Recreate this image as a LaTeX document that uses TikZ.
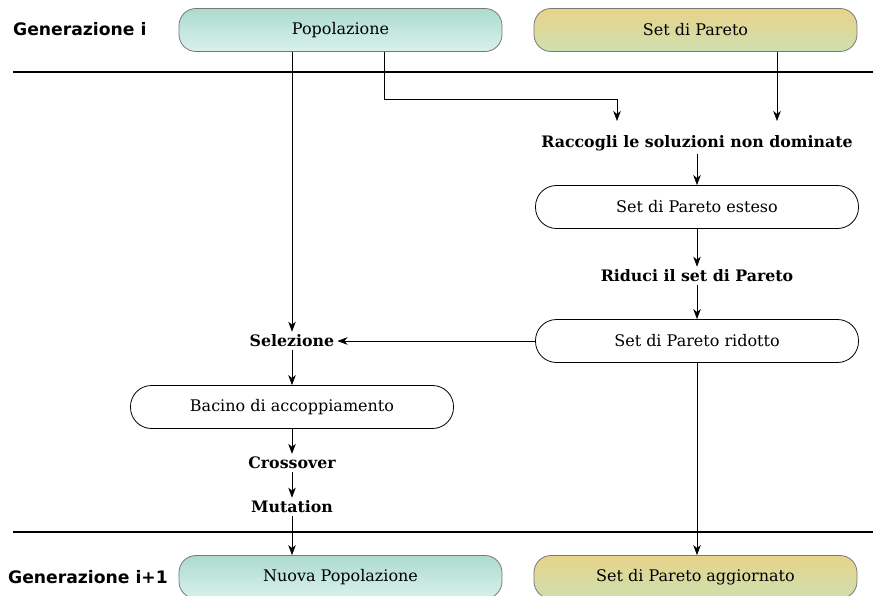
\documentclass[tikz,border=0pt]{standalone}
\usepackage{fontspec}
\setmainfont{DejaVu Serif}
\newfontfamily\gensans{DejaVu Sans}
\usetikzlibrary{arrows.meta,positioning}
\definecolor{popTop}{RGB}{172,219,206}
\definecolor{popBot}{RGB}{217,241,236}
\definecolor{parTop}{RGB}{232,211,138}
\definecolor{parBot}{RGB}{206,224,176}
\definecolor{edgeGray}{RGB}{120,120,120}
\tikzset{
  x=1pt, y=-1pt,
  box/.style={draw, line width=0.8pt, minimum width=323pt, minimum height=43pt,
    rounded corners=17pt, font=\fontsize{16}{18}\selectfont, inner sep=0pt},
  popbox/.style={box, draw=edgeGray, top color=popTop, bottom color=popBot},
  parbox/.style={box, draw=edgeGray, top color=parTop, bottom color=parBot},
  plainbox/.style={box, draw=black, fill=white, rounded corners=21pt},
  stepname/.style={font=\fontsize{15.8}{18}\selectfont\bfseries, inner sep=3pt},
  genlabel/.style={font=\gensans\fontsize{17.2}{19}\selectfont\bfseries, anchor=west, inner sep=0pt},
  flow/.style={-{Stealth[length=10pt,width=7.5pt,inset=3pt]}, line width=0.7pt},
  sep/.style={line width=1.6pt}
}
\begin{document}
\begin{tikzpicture}
\useasboundingbox (0,0) rectangle (873,596);

% generation labels
\node[genlabel] (gen0) at (13,29) {Generazione i};
\node[genlabel] (gen1) at (8,577) {Generazione i+1};

% top row
\node[popbox] (pop)  at (340.5,30) {Popolazione};
\node[parbox] (par)  at (695.5,30) {Set di Pareto};

% separators
\coordinate (s0l) at (13,72);  \coordinate (s0r) at (873,72);
\coordinate (s1l) at (13,532); \coordinate (s1r) at (873,532);
\draw[sep] (s0l) -- (s0r);
\draw[sep] (s1l) -- (s1r);

% Pareto branch
\node[stepname] (collect) at (697,143) {Raccogli le soluzioni non dominate};
\node[plainbox] (ext) at (697,207) {Set di Pareto esteso};
\node[stepname] (reduce) at (697,276) {Riduci il set di Pareto};
\node[plainbox] (red) at (697,341) {Set di Pareto ridotto};

% population branch
\node[stepname] (sel) at (292,341) {Selezione};
\node[plainbox] (pool) at (292,407) {Bacino di accoppiamento};
\node[stepname] (cross) at (292,463) {Crossover};
\node[stepname] (mut) at (292,507) {Mutation};

% bottom row
\node[popbox] (npop) at (340.5,577) {Nuova Popolazione};
\node[parbox] (npar) at (695.5,577) {Set di Pareto aggiornato};

% connectors
\coordinate (popA) at (292,52);
\coordinate (popB) at (384,52);
\coordinate (parA) at (777,52);
\coordinate (joinL) at (617,121);
\coordinate (joinR) at (777,121);
\draw[flow] (popA) -- (sel.north -| popA);
\draw[flow] (popB) |- (617,99) -- (joinL);
\draw[flow] (parA) -- (joinR);
\draw[flow] (collect.south) -- (ext.north);
\draw[flow] (ext.south) -- (reduce.north);
\draw[flow] (reduce.south) -- (red.north);
\draw[flow] (red.west) -- (sel.east);
\draw[flow] (sel.south) -- (pool.north);
\draw[flow] (pool.south) -- (cross.north);
\draw[flow] (cross.south) -- (mut.north);
\draw[flow] (mut.south) -- (npop.north -| mut.south);
\draw[flow] (red.south) -- (red.south |- npar.north);
\end{tikzpicture}
\end{document}
